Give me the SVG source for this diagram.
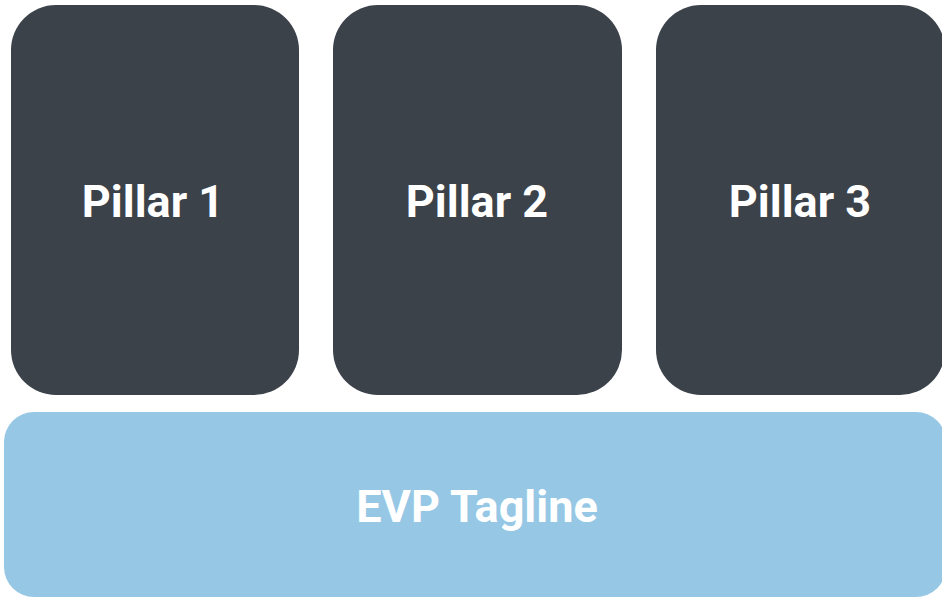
<svg xmlns="http://www.w3.org/2000/svg" width="942" height="597" viewBox="0 0 942 597">
<style>
.pillar{fill:#3c424a}
.tag{fill:#96c8e5}
.lbl{font-family:Roboto,"Liberation Sans",sans-serif;font-weight:bold;font-size:45px;fill:#ffffff;text-anchor:middle}
</style>
<rect width="942" height="597" fill="#ffffff"/>
<g id="pillar1"><rect class="pillar" x="11" y="5" width="288" height="390" rx="45" ry="45"/><text class="lbl" x="153" y="217">Pillar 1</text></g>
<g id="pillar2"><rect class="pillar" x="333" y="5" width="289" height="390" rx="45" ry="45"/><text class="lbl" x="477" y="217">Pillar 2</text></g>
<g id="pillar3"><rect class="pillar" x="656" y="5" width="289" height="390" rx="45" ry="45"/><text class="lbl" x="800" y="217">Pillar 3</text></g>
<g id="tagline"><rect class="tag" x="4" y="412" width="942" height="185" rx="30" ry="30"/><text class="lbl" x="477" y="522">EVP Tagline</text></g>
<g id="connectors"/>
</svg>
